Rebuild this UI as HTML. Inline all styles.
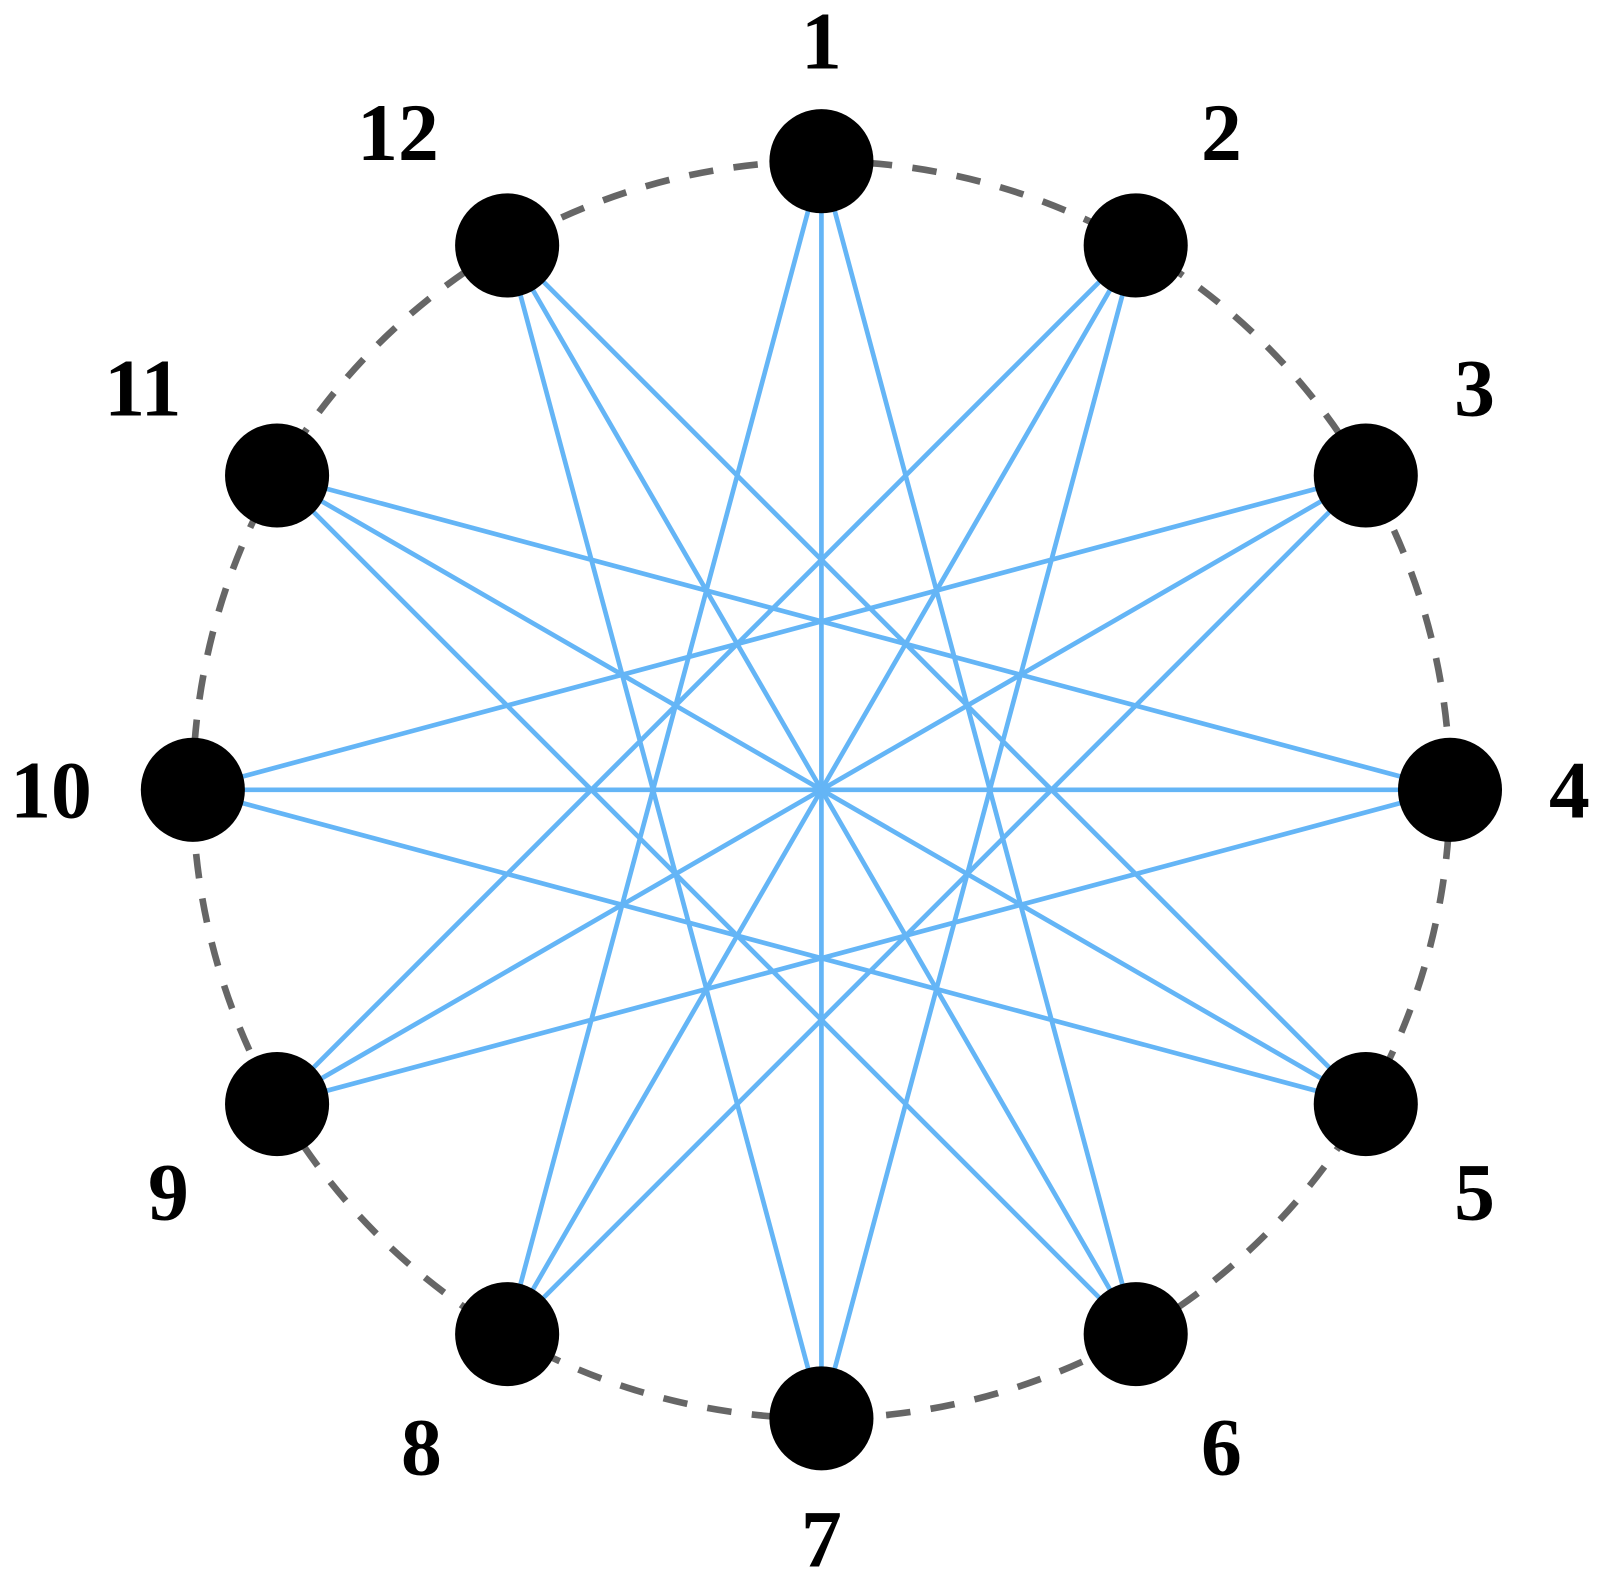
<!DOCTYPE html>
<html><head><meta charset="utf-8"><style>
html,body{margin:0;padding:0;background:#fff;}
svg{display:block;}
text{font-family:"Liberation Serif",serif;font-weight:bold;font-size:80px;fill:#000;}
</style></head><body>
<svg id="s" width="1600" height="1578" viewBox="0 0 1600 1578" xmlns="http://www.w3.org/2000/svg">
<g transform="scale(1.0204)">
<circle cx="805" cy="774" r="616" fill="none" stroke="#666" stroke-width="6.5" stroke-dasharray="24 20"/>
<g stroke="#64b5f6" stroke-width="4.6" id="e"></g>
<g id="n"></g>
<g id="t" text-anchor="middle" dominant-baseline="central"></g>
</g>
</svg>
<script>
var cx=805,cy=774,R=616,ns="http://www.w3.org/2000/svg";
var lab={1:[805,40],2:[1197,130],3:[1445,380],4:[1538,774],5:[1445,1168],6:[1197,1418],7:[805,1508],8:[413,1418],9:[165,1168],10:[50,774],11:[140,380],12:[390,130]};
function p(i,r){var a=(i-1)*Math.PI/6;return [cx+r*Math.sin(a),cy-r*Math.cos(a)];}
var e=document.getElementById('e'),n=document.getElementById('n'),t=document.getElementById('t');
for(var i=1;i<=12;i++){
  [5,6].forEach(function(d){var j=i+d;if(d==6&&i>6)return;var a=p(i,R),b=p(j,R);
    var l=document.createElementNS(ns,'line');l.setAttribute('x1',a[0]);l.setAttribute('y1',a[1]);l.setAttribute('x2',b[0]);l.setAttribute('y2',b[1]);e.appendChild(l);});
}
for(var i=1;i<=12;i++){var a=p(i,R);var c=document.createElementNS(ns,'circle');c.setAttribute('cx',a[0]);c.setAttribute('cy',a[1]);c.setAttribute('r',51);n.appendChild(c);
  var b=lab[i];var x=document.createElementNS(ns,'text');x.setAttribute('x',b[0]);x.setAttribute('y',b[1]);x.textContent=i;t.appendChild(x);}
</script>
</body></html>
